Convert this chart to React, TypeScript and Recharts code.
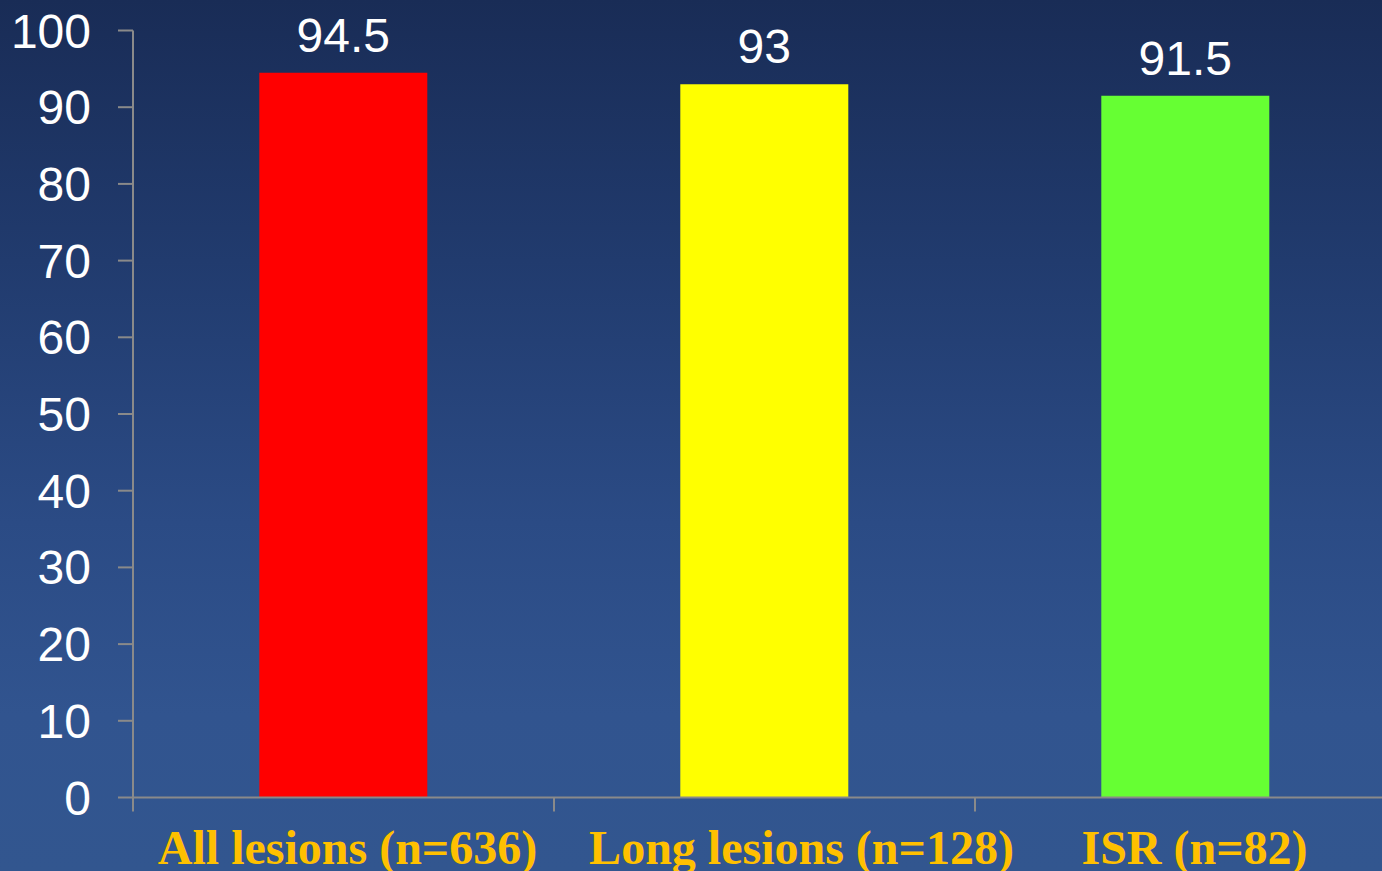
import React from "react";
import { BarChart, Bar, XAxis, YAxis, Cell, LabelList } from "recharts";

// Lesion groups and their rates (%)
const groups = ["All lesions (n=636)", "Long lesions (n=128)", "ISR (n=82)"];
const rates = [94.5, 93, 91.5];
const barColors = ["#FF0000", "#FFFF00", "#66FF33"];
const yTicks = [0, 10, 20, 30, 40, 50, 60, 70, 80, 90, 100];

const chartData = groups.map((name, i) => ({ name, rate: rates[i] }));

const AXIS_GREY = "#8a8a8a";
const TICK_MARK = 14;
const LABEL_GAP = 32;
// small horizontal nudges for the category captions
const captionShift = [4, 37, 9];

// Category label plus a tick mark on the left edge of its band
const GroupTick = (props: any) => {
  const { x, y, payload, index } = props;
  const edge = x - (payload.offset ?? 0);
  const axisY = y - LABEL_GAP;
  return (
    <g>
      <line
        x1={edge}
        x2={edge}
        y1={axisY}
        y2={axisY + TICK_MARK}
        stroke={AXIS_GREY}
        strokeWidth={2}
      />
      <text
        x={x + (captionShift[index] ?? 0)}
        y={y}
        dy="0.71em"
        textAnchor="middle"
        fill="#FFC000"
        fontFamily="'Liberation Serif', 'Times New Roman', serif"
        fontWeight="bold"
        fontSize={48}
      >
        {payload.value}
      </text>
    </g>
  );
};

export default function App() {
  return (
    <div
      style={{
        position: "absolute",
        left: 0,
        top: 0,
        width: 1382,
        height: 871,
        overflow: "hidden",
        background:
          "linear-gradient(to bottom, #192c56 0%, #213b6e 30%, #2b4b85 60%, #31548f 82%, #32568f 100%)",
        fontFamily: "'Liberation Sans', Arial, sans-serif",
      }}
    >
      <BarChart
        width={1396}
        height={871}
        data={chartData}
        margin={{ top: 30.5, right: 0, bottom: 0, left: 0 }}
        barCategoryGap="30%"
      >
        <XAxis
          dataKey="name"
          height={73.5}
          axisLine={{ stroke: AXIS_GREY, strokeWidth: 2 }}
          tickLine={false}
          tickSize={0}
          tickMargin={LABEL_GAP}
          tick={<GroupTick />}
          interval={0}
        />
        <YAxis
          width={133}
          domain={[0, 100]}
          ticks={yTicks}
          interval={0}
          axisLine={{ stroke: AXIS_GREY, strokeWidth: 2 }}
          tickLine={{ stroke: AXIS_GREY, strokeWidth: 2 }}
          tickSize={15}
          tickMargin={27}
          tick={{
            fill: "#FFFFFF",
            fontSize: 48,
            fontFamily: "'Liberation Sans', Arial, sans-serif",
          }}
        />
        <Bar dataKey="rate" isAnimationActive={false}>
          {chartData.map((_, index) => (
            <Cell key={`cell-${index}`} fill={barColors[index]} />
          ))}
          <LabelList
            dataKey="rate"
            position="top"
            offset={21}
            fill="#FFFFFF"
            fontSize={48}
            fontFamily="'Liberation Sans', Arial, sans-serif"
          />
        </Bar>
      </BarChart>
    </div>
  );
}
